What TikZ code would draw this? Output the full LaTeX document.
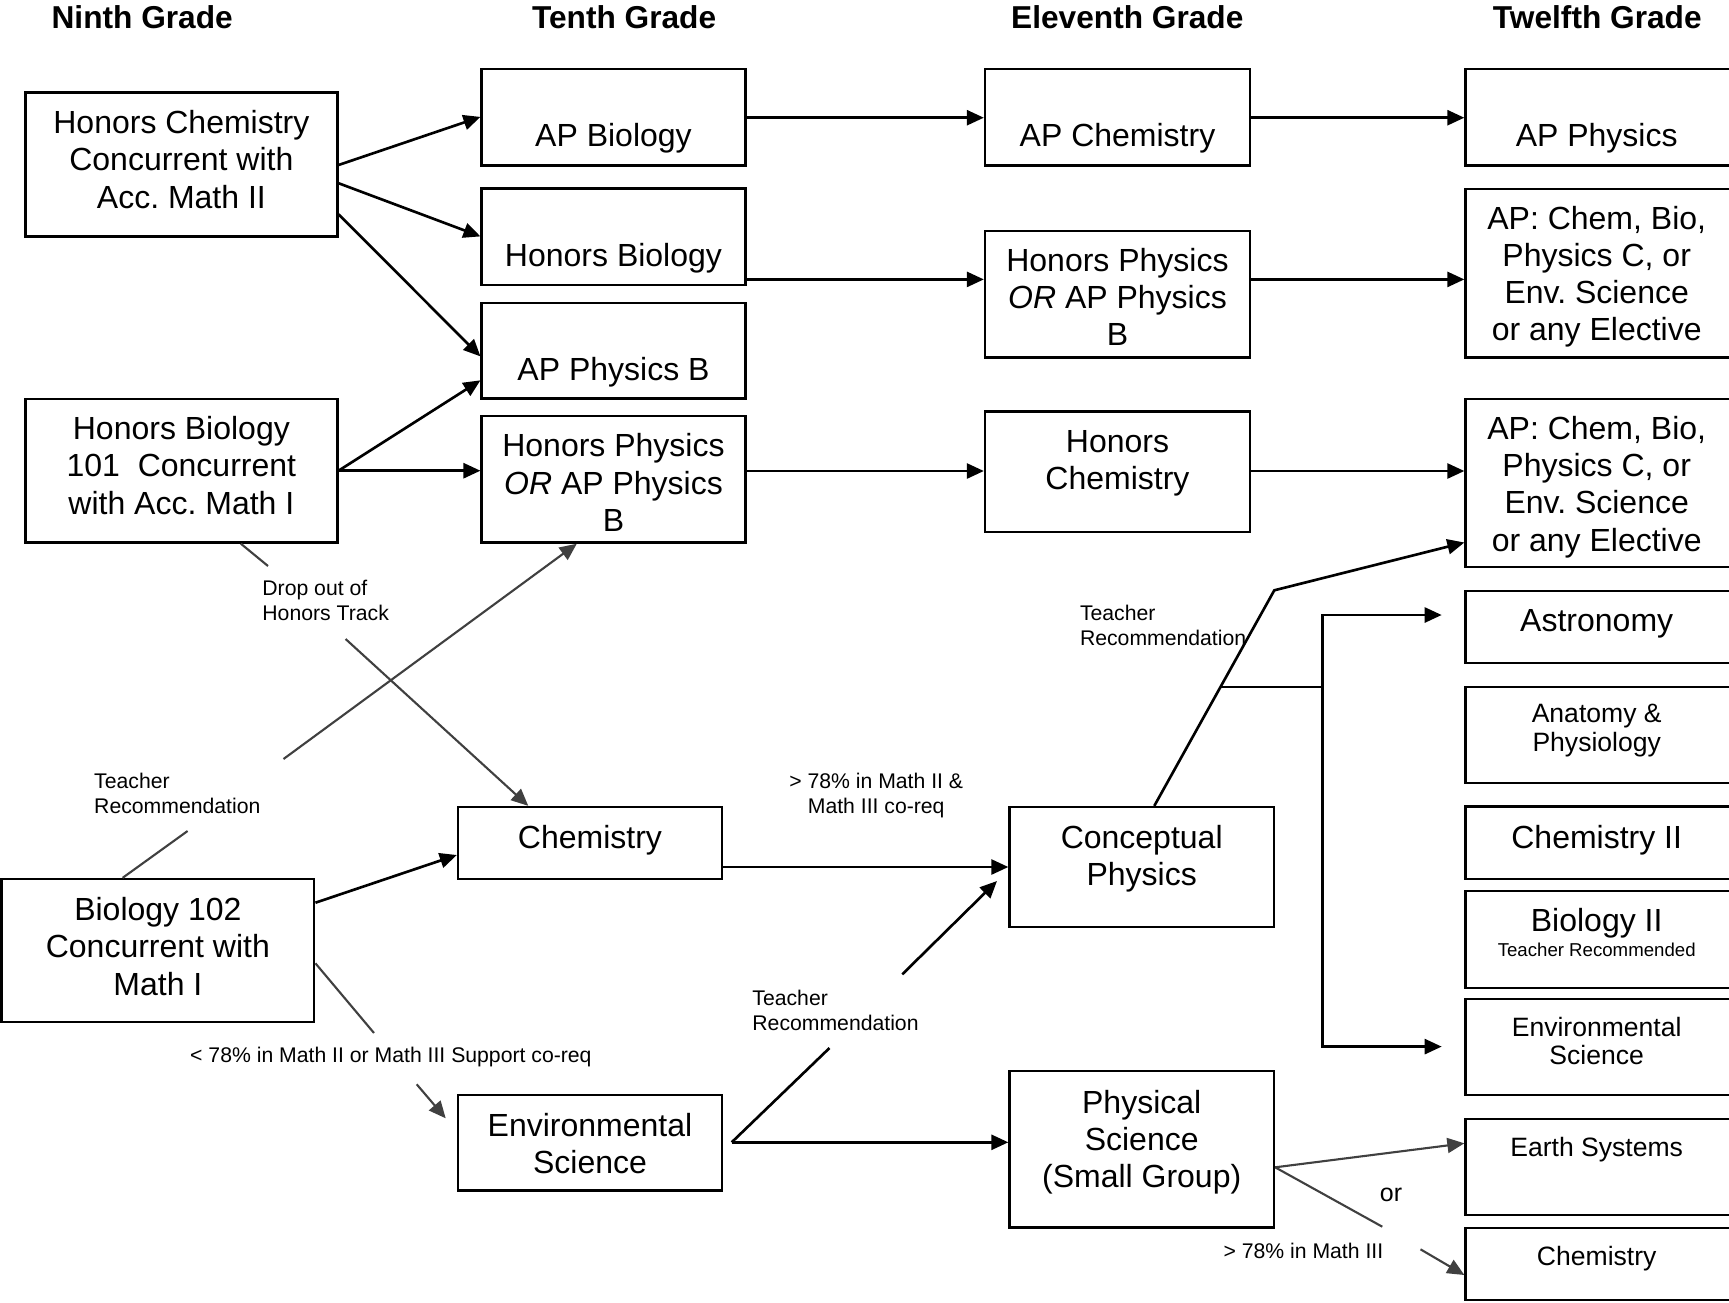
\documentclass[tikz,border=0pt]{standalone}
\usepackage{fontspec}
\setmainfont{Liberation Sans}
\usetikzlibrary{arrows.meta,fit}
\definecolor{dgray}{RGB}{64,64,64}
\frenchspacing
\begin{document}
\begin{tikzpicture}[x=0.01cm,y=-0.01cm,
  box/.style={draw=black,line width=0.65pt,inner sep=0pt},
  big/.style={font=\fontsize{9.1}{10.6}\selectfont,align=center,inner sep=0pt},
  med/.style={font=\fontsize{7.55}{8.2}\selectfont,align=center,inner sep=0pt},
  sml/.style={font=\fontsize{6.03}{7.0}\selectfont,align=left,inner sep=0pt},
  tinytxt/.style={font=\fontsize{5.3}{6}\selectfont,inner sep=0pt},
  hdr/.style={font=\bfseries\fontsize{9.0}{10.5}\selectfont,inner sep=0pt},
  tip/.style={-{Triangle[length=1.7mm,width=1.5mm]}},
  tiptwo/.style={{Triangle[length=1.7mm,width=1.5mm]}-{Triangle[length=1.7mm,width=1.5mm]}},
  bl/.style={draw=black,line width=0.75pt},
  gl/.style={draw=dgray,line width=0.6pt},
]
\path[use as bounding box] (0,0) rectangle (1729,1302);
\clip (0,0) rectangle (1729,1302);

% headers
\node[hdr,anchor=base] (h9) at (142.2,28) {Ninth Grade};
\node[hdr,anchor=base] (h10) at (624.1,28) {Tenth Grade};
\node[hdr,anchor=base] (h11) at (1127.3,28) {Eleventh Grade};
\node[hdr,anchor=base] (h12) at (1597.3,28) {Twelfth Grade};

% ninth grade
\node[box,fit={(25.4,92.6)(337.4,236.4)}] (hc9) {};
\node[big] (hc9t) at (181.4,159.4) {Honors Chemistry\\Concurrent with\\Acc. Math II};
\node[box,fit={(25.4,399)(337.4,542.6)}] (hb101) {};
\node[big] (hb101t) at (181.4,465.5) {Honors Biology\\101~ Concurrent\\with Acc. Math I};
\node[box,fit={(1.5,879)(314.3,1022)}] (b102) {};
\node[big] (b102t) at (157.9,946.5) {Biology 102\\Concurrent with\\Math I};

% tenth grade
\node[box,fit={(481.6,69)(745.4,165.4)}] (apbio) {};
\node[big,anchor=base] (apbiot) at (613.5,146.5) {AP Biology};
\node[box,fit={(481.6,188.6)(745.4,285)}] (hbio) {};
\node[big,anchor=base] (hbiot) at (613.5,266.5) {Honors Biology};
\node[box,fit={(481.6,302.8)(745.4,398.5)}] (appb) {};
\node[big,anchor=base] (appbt) at (613.5,380.7) {AP Physics B};
\node[box,fit={(481.6,416.3)(745.4,542.6)}] (hp10) {};
\node[big] (hp10t) at (613.5,482.5) {Honors Physics\\\textit{OR} AP Physics\\B};
\node[box,fit={(458,807)(722,879)}] (chem10) {};
\node[big,anchor=base] (chem10t) at (590,848.8) {Chemistry};
\node[box,fit={(458,1095)(722,1190.5)}] (env10) {};
\node[big] (env10t) at (590,1143.2) {Environmental\\Science};

% eleventh grade
\node[box,fit={(985,69)(1250,165.4)}] (apchem) {};
\node[big,anchor=base] (apchemt) at (1117.5,146.5) {AP Chemistry};
\node[box,fit={(985,230.9)(1250,357.4)}] (hp11) {};
\node[big] (hp11t) at (1117.5,296.9) {Honors Physics\\\textit{OR} AP Physics\\B};
\node[box,fit={(985,411.4)(1250,532)}] (hch11) {};
\node[big] (hch11t) at (1117.5,463.4) {Honors\\Chemistry};
\node[box,fit={(1009.5,807)(1274,927)}] (conc) {};
\node[big] (conct) at (1141.7,858.8) {Conceptual\\Physics};
\node[box,fit={(1009.5,1070.7)(1274,1227.5)}] (phys) {};
\node[big] (physt) at (1141.7,1142.3) {Physical\\Science\\(Small Group)};

% twelfth grade
\node[box,fit={(1465.5,69)(1790,165.4)}] (apphys) {};
\node[big,anchor=base] (apphyst) at (1596.7,146.5) {AP Physics};
\node[box,fit={(1465.5,189)(1790,357.4)}] (apcb1) {};
\node[big] (apcb1t) at (1596.7,276.8) {AP: Chem, Bio,\\Physics C, or\\Env. Science\\or any Elective};
\node[box,fit={(1465.5,399)(1790,566.8)}] (apcb2) {};
\node[big] (apcb2t) at (1596.7,486.8) {AP: Chem, Bio,\\Physics C, or\\Env. Science\\or any Elective};
\node[box,fit={(1465.5,591)(1790,663)}] (astro) {};
\node[big,anchor=base] (astrot) at (1596.7,631.2) {Astronomy};
\node[box,fit={(1465.5,687)(1790,782.8)}] (anat) {};
\node[med] (anatt) at (1596.7,730.8) {Anatomy \&\\Physiology};
\node[box,fit={(1465.5,806.6)(1790,879)}] (chemii) {};
\node[big,anchor=base] (chemiit) at (1596.7,848.2) {Chemistry II};
\node[box,fit={(1465.5,891.3)(1790,987.7)}] (bioii) {};
\node[big,anchor=base] (bioiit) at (1596.7,931.8) {Biology II};
\node[tinytxt,anchor=base] (bioiir) at (1596.7,956.5) {Teacher Recommended};
\node[box,fit={(1465.5,999)(1790,1095)}] (env12) {};
\node[med] (env12t) at (1596.7,1041) {Environmental\\Science};
\node[box,fit={(1465.5,1119.3)(1790,1215)}] (earth) {};
\node[med,anchor=base] (eartht) at (1596.7,1156) {Earth Systems};
\node[box,fit={(1465.5,1228.3)(1790,1300)}] (chem12) {};
\node[med,anchor=base] (chem12t) at (1596.7,1265) {Chemistry};

% labels
\node[sml,anchor=west] (ldrop) at (261.7,600.5) {Drop out of\\Honors Track};
\node[sml,anchor=west] (ltr1) at (93.5,793.7) {Teacher\\Recommendation};
\node[sml,align=center] (lgt1) at (876.2,795.4) {> 78\% in Math II \&\\Math III co-req};
\node[sml,anchor=west] (ltr2) at (751.7,1010.1) {Teacher\\Recommendation};
\node[sml,anchor=west] (ltr3) at (1079.3,625.5) {Teacher\\Recommendation};
\node[sml] (llt) at (390.9,1057.3) {< 78\% in Math II or Math III Support co-req};
\node[sml,anchor=base] (lgt2) at (1303.4,1258) {> 78\% in Math III};
\node[font=\fontsize{7.1}{8}\selectfont,inner sep=0pt,anchor=base] (lor) at (1391,1201.7) {or};

% honors connectors
\draw[bl,tip] (hc9.east |- 0,165) -- (apbio.west |- 0,116.9);
\draw[bl,tip] (hc9.east |- 0,183.2) -- (hbio.west |- 0,236.4);
\draw[bl,tip] (hc9.east |- 0,214.3) -- (appb.west |- 0,356.4);
\draw[bl,tip] (hb101.east |- 0,470.7) -- (appb.west |- 0,380.3);
\draw[bl,tip] (hb101.east |- 0,470.7) -- (hp10.west |- 0,470.7);
\draw[bl,tip] (apbio.east |- 0,117.7) -- (apchem.west |- 0,117.7);
\draw[bl,tip] (hbio.east |- 0,279.4) -- (hp11.west |- 0,279.4);
\draw[bl,tip] (hp10.east |- 0,471) -- (hch11.west |- 0,471);
\draw[bl,tip] (apchem.east |- 0,117.7) -- (apphys.west |- 0,117.7);
\draw[bl,tip] (hp11.east |- 0,279.4) -- (apcb1.west |- 0,279.4);
\draw[bl,tip] (hch11.east |- 0,471) -- (apcb2.west |- 0,471);

% regular track
\draw[bl,tip] (b102.east |- 0,902.7) -- (chem10.west |- 0,855);
\draw[bl,tip] (chem10.east |- 0,867) -- (conc.west |- 0,867);

% drop out of honors track
\coordinate (d1) at (268,566);
\coordinate (d2) at (345.6,639);
\draw[gl] (hb101.south -| 240.9,0) -- (d1);
\draw[gl,tip] (d2) -- (chem10.north -| 528.3,0);

% teacher recommendation (left)
\coordinate (t1a) at (187.6,831);
\coordinate (t1b) at (283.5,759);
\draw[gl] (b102.north -| 122.6,0) -- (t1a);
\draw[gl,tip] (t1b) -- (hp10.south -| 576.8,0);

% biology 102 -> environmental science
\coordinate (b1a) at (374,1033);
\coordinate (b1b) at (416.7,1084.3);
\coordinate (b1c) at (445.7,1118.3);
\draw[gl] (b102.east |- 0,963.3) -- (b1a);
\draw[gl,tip] (b1b) -- (b1c);

% environmental science -> physical science / conceptual physics
\coordinate (envx) at (731.7,1142.3);
\coordinate (trA) at (829.5,1048);
\coordinate (trB) at (902.3,974.3);
\coordinate (trC) at (997,881);
\draw[bl,tip] (envx) -- (phys.west |- envx);
\draw[bl] (envx) -- (trA);
\draw[bl,tip] (trB) -- (trC);

% conceptual physics -> AP / electives
\coordinate (ck) at (1274.3,590.3);
\draw[bl,tip] (conc.north -| 1154.3,0) -- (ck) -- (apcb2.west |- 0,542.5);
\coordinate (bA) at (1221,687);
\coordinate (bB) at (1322.3,687);
\coordinate (bT) at (1322.3,615);
\coordinate (bD) at (1322.3,1046.6);
\coordinate (aT) at (1441.7,615);
\coordinate (aD) at (1441.7,1046.6);
\draw[bl] (bA) -- (bB);
\draw[bl,tiptwo] (aT) -- (bT) -- (bD) -- (aD);

% physical science -> earth systems / chemistry
\coordinate (p1) at (1382.3,1226.7);
\coordinate (p2) at (1420.5,1249.3);
\draw[gl,tip] (phys.east |- 0,1167.3) -- (earth.west |- 0,1143.3);
\draw[gl] (phys.east |- 0,1167.3) -- (p1);
\draw[gl,tip] (p2) -- (chem12.west |- 0,1275);
\end{tikzpicture}
\end{document}
